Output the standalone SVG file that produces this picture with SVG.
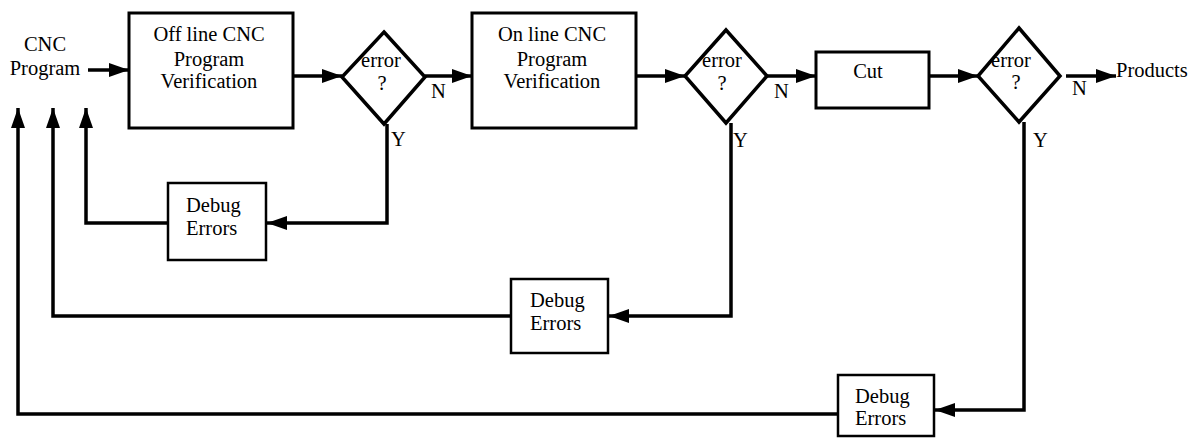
<svg xmlns="http://www.w3.org/2000/svg" width="1196" height="446" viewBox="0 0 1196 446">
<defs>
<marker id="ah" markerUnits="userSpaceOnUse" markerWidth="21" markerHeight="14" refX="20" refY="7" orient="auto">
<path d="M0,0 L20,7 L0,14 z" fill="#000"/>
</marker>
<style>
text{font-family:"Liberation Serif","Times New Roman",serif;font-size:20.5px;fill:#000}
.c{text-anchor:middle}
.box{fill:#fff;stroke:#000;stroke-width:3}
.dbg{fill:#fff;stroke:#000;stroke-width:2.5}
.dia{fill:#fff;stroke:#000;stroke-width:3.5;stroke-linejoin:miter}
.ln{fill:none;stroke:#000;stroke-width:3.5}
.ar{fill:none;stroke:#000;stroke-width:3.5;marker-end:url(#ah)}
</style>
</defs>
<rect width="1196" height="446" fill="#fff"/>
<g id="connectors">
<line class="ar" x1="88" y1="70" x2="129" y2="70"/>
<line class="ar" x1="293" y1="76" x2="342" y2="76"/>
<line class="ar" x1="425" y1="76" x2="472" y2="76"/>
<line class="ar" x1="636" y1="76" x2="685" y2="76"/>
<line class="ar" x1="767" y1="76" x2="816" y2="76"/>
<line class="ar" x1="929" y1="76" x2="978" y2="76"/>
<line class="ar" x1="1066" y1="76" x2="1116" y2="76"/>
<polyline class="ar" points="387,124 387,223 267,223"/>
<polyline class="ar" points="168,223 86,223 86,108"/>
<polyline class="ar" points="731,123 731,316 609,316"/>
<polyline class="ar" points="511,316 53,316 53,108"/>
<polyline class="ar" points="1024,122 1024,410 935,410"/>
<polyline class="ar" points="838,414 18,414 18,108"/>
<text x="431" y="98">N</text>
<text x="774" y="98">N</text>
<text x="1072" y="95">N</text>
<text x="391" y="146">Y</text>
<text x="733" y="147">Y</text>
<text x="1033" y="147">Y</text>
</g>
<g id="cnc-program">
<text class="c" x="45" y="51">CNC</text>
<text class="c" x="45" y="75">Program</text>
</g>
<g id="offline">
<rect class="box" x="129" y="13" width="164" height="115"/>
<text class="c" x="209" y="41">Off line CNC</text>
<text class="c" x="209" y="66">Program</text>
<text class="c" x="209" y="88">Verification</text>
</g>
<g id="error1">
<polygon class="dia" points="384,32 425,77 384,124 342,77"/>
<text class="c" x="381" y="67">error</text>
<text class="c" x="382" y="90">?</text>
</g>
<g id="online">
<rect class="box" x="472" y="13" width="164" height="115"/>
<text class="c" x="552" y="41">On line CNC</text>
<text class="c" x="552" y="66">Program</text>
<text class="c" x="552" y="88">Verification</text>
</g>
<g id="error2">
<polygon class="dia" points="726,30 767,76 726,123 685,76"/>
<text class="c" x="722" y="67">error</text>
<text class="c" x="722" y="90">?</text>
</g>
<g id="cut">
<rect class="box" x="816" y="52" width="113" height="56"/>
<text class="c" x="868" y="78">Cut</text>
</g>
<g id="error3">
<polygon class="dia" points="1019,28 1060,76 1019,122 978,76"/>
<text class="c" x="1011" y="67">error</text>
<text class="c" x="1016" y="89">?</text>
</g>
<g id="products">
<text x="1116" y="77">Products</text>
</g>
<g id="debug1">
<rect class="dbg" x="168" y="183" width="98" height="77"/>
<text x="186" y="212">Debug</text>
<text x="186" y="235">Errors</text>
</g>
<g id="debug2">
<rect class="dbg" x="511" y="279" width="97" height="74"/>
<text x="530" y="307">Debug</text>
<text x="530" y="330">Errors</text>
</g>
<g id="debug3">
<rect class="dbg" x="838" y="375" width="96" height="61"/>
<text x="855" y="403">Debug</text>
<text x="855" y="425">Errors</text>
</g>
</svg>
